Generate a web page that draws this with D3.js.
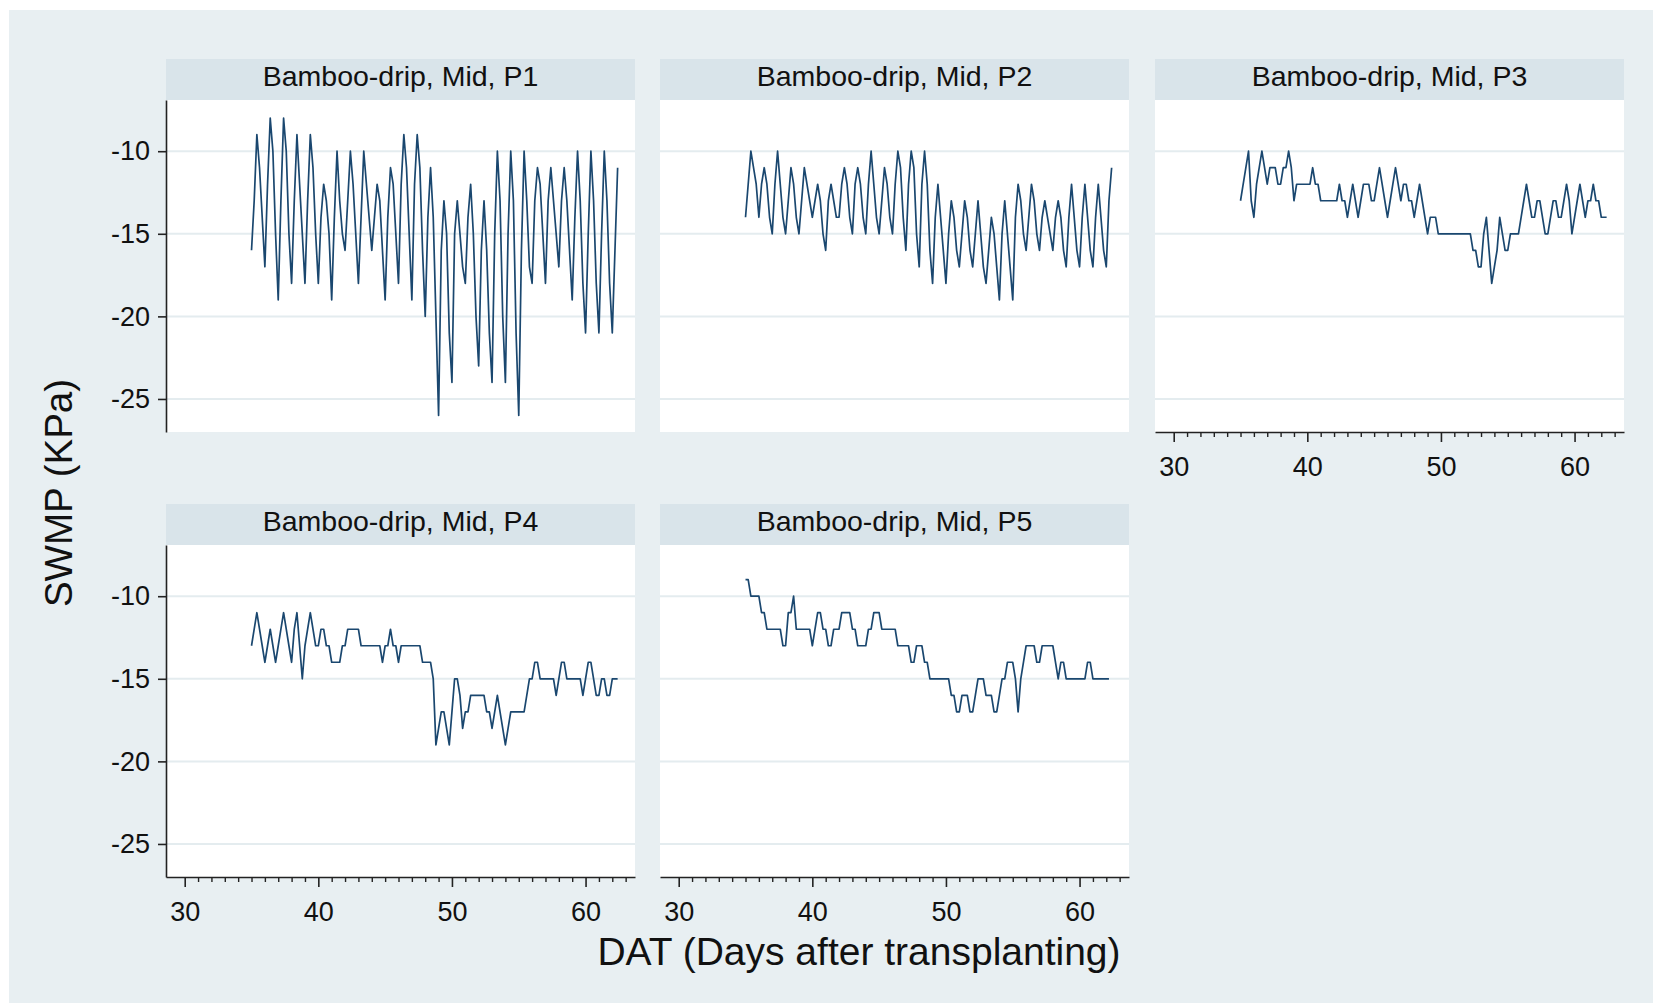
<!DOCTYPE html>
<html><head><meta charset="utf-8">
<script src="https://cdn.jsdelivr.net/npm/d3@7"></script>
<style>body{margin:0;background:#fff}svg{display:block}</style>
</head><body>
<svg id="chart" width="1653" height="1003"></svg>
<script>
// ---- data ----
const panelTitles = ["Bamboo-drip, Mid, P1","Bamboo-drip, Mid, P2","Bamboo-drip, Mid, P3","Bamboo-drip, Mid, P4","Bamboo-drip, Mid, P5"];
const yTicks = [-10, -15, -20, -25];
const xTicks = [30, 40, 50, 60];
const xTitle = "DAT (Days after transplanting)";
const yTitle = "SWMP (KPa)";
const datStart = 35, datStep = 0.2;   // readings every 0.2 day from DAT 35

const p1 = [
 -16,-13,-9,-11,-14,  -17,-12,-8,-10,-15,  -19,-13,-8,-10,-15,  -18,-13,-9,-12,-15,
 -18,-13,-9,-11,-15,  -18,-14,-12,-13,-15, -19,-14,-10,-13,-15, -16,-13,-10,-12,-15,
 -18,-14,-10,-12,-14, -16,-14,-12,-13,-16, -19,-14,-11,-12,-15, -18,-12,-9,-11,-15,
 -19,-12,-9,-11,-16,  -20,-14,-11,-14,-20, -26,-16,-13,-15,-21, -24,-15,-13,-15,-17,
 -18,-14,-12,-15,-20, -23,-16,-13,-16,-21, -24,-15,-10,-13,-20, -24,-15,-10,-13,-21,
 -26,-16,-10,-13,-17, -18,-13,-11,-12,-15, -18,-13,-11,-13,-15, -17,-13,-11,-13,-16,
 -19,-14,-10,-13,-18, -21,-15,-10,-13,-18, -21,-15,-10,-13,-18, -21,-16,-11
];
const p2 = [
 -14,-12,-10,-11,-12, -14,-12,-11,-12,-14, -15,-12,-10,-12,-14, -15,-13,-11,-12,-14,
 -15,-13,-11,-12,-13, -14,-13,-12,-13,-15, -16,-13,-12,-13,-14, -14,-12,-11,-12,-14,
 -15,-12,-11,-12,-14, -15,-12,-10,-12,-14, -15,-13,-11,-12,-14, -15,-12,-10,-11,-14,
 -16,-12,-10,-11,-15, -17,-12,-10,-12,-16, -18,-14,-12,-14,-16, -18,-15,-13,-14,-16,
 -17,-15,-13,-14,-16, -17,-15,-13,-15,-17, -18,-16,-14,-15,-17, -19,-15,-13,-15,-17,
 -19,-14,-12,-13,-15, -16,-14,-12,-13,-15, -16,-14,-13,-14,-15, -16,-14,-13,-14,-16,
 -17,-14,-12,-14,-16, -17,-14,-12,-14,-16, -17,-14,-12,-14,-16, -17,-13,-11
];
const p3 = [
 -13,-12,-11,-10,-13, -14,-12,-11,-10,-11, -12,-11,-11,-11,-12, -12,-11,-11,-10,-11,
 -13,-12,-12,-12,-12, -12,-12,-11,-12,-12, -13,-13,-13,-13,-13, -13,-13,-12,-13,-13,
 -14,-13,-12,-13,-14, -13,-12,-12,-12,-13, -13,-12,-11,-12,-13, -14,-13,-12,-11,-12,
 -13,-12,-12,-13,-13, -14,-13,-12,-13,-14, -15,-14,-14,-14,-15, -15,-15,-15,-15,-15,
 -15,-15,-15,-15,-15, -15,-15,-16,-16,-17, -17,-15,-14,-16,-18, -17,-16,-14,-15,-16,
 -16,-15,-15,-15,-15, -14,-13,-12,-13,-14, -14,-13,-13,-14,-15, -15,-14,-13,-13,-14,
 -14,-13,-12,-13,-15, -14,-13,-12,-13,-14, -13,-13,-12,-13,-13, -14,-14,-14
];
const p4 = [
 -13,-12,-11,-12,-13, -14,-13,-12,-13,-14, -13,-12,-11,-12,-13, -14,-12,-11,-13,-15,
 -13,-12,-11,-12,-13, -13,-12,-12,-13,-13, -14,-14,-14,-14,-13, -13,-12,-12,-12,-12,
 -12,-13,-13,-13,-13, -13,-13,-13,-13,-14, -13,-13,-12,-13,-13, -14,-13,-13,-13,-13,
 -13,-13,-13,-13,-14, -14,-14,-14,-15,-19, -18,-17,-17,-18,-19, -17,-15,-15,-16,-18,
 -17,-17,-16,-16,-16, -16,-16,-16,-17,-17, -18,-17,-16,-17,-18, -19,-18,-17,-17,-17,
 -17,-17,-17,-16,-15, -15,-14,-14,-15,-15, -15,-15,-15,-15,-16, -15,-14,-14,-15,-15,
 -15,-15,-15,-15,-16, -15,-14,-14,-15,-16, -16,-15,-15,-16,-16, -15,-15,-15
];
const p5 = [
 -9,-9,-10,-10,-10,   -10,-11,-11,-12,-12, -12,-12,-12,-12,-13, -13,-11,-11,-10,-12,
 -12,-12,-12,-12,-12, -13,-12,-11,-11,-12, -12,-13,-13,-12,-12, -12,-11,-11,-11,-11,
 -12,-12,-13,-13,-13, -13,-12,-12,-11,-11, -11,-12,-12,-12,-12, -12,-12,-13,-13,-13,
 -13,-13,-14,-14,-13, -13,-13,-14,-14,-15, -15,-15,-15,-15,-15, -15,-15,-16,-16,-17,
 -17,-16,-16,-16,-17, -17,-16,-15,-15,-15, -16,-16,-16,-17,-17, -16,-15,-15,-14,-14,
 -14,-15,-17,-15,-14, -13,-13,-13,-13,-14, -14,-13,-13,-13,-13, -13,-14,-15,-14,-14,
 -15,-15,-15,-15,-15, -15,-15,-15,-14,-14, -15,-15,-15,-15,-15, -15,-15
];
const series = [p1, p2, p3, p4, p5];

// ---- layout ----
const W = 1653, H = 1003;
const font = "'Liberation Sans', Arial, Helvetica, sans-serif";
const colX = [166, 660, 1155], rowY = [100, 545];
const pw = 469, ph = 332, hh = 41;
const lineColor = "#1a476f";

const svg = d3.select("#chart");
svg.append("rect").attr("x", 9).attr("y", 10).attr("width", W - 9).attr("height", H - 10).attr("fill", "#e8eff2");

const x = d3.scaleLinear().domain([28.6, 63.7]).range([0, pw]);
const y = d3.scaleLinear().domain([-27, -6.9]).range([ph, 0]);
const line = d3.line().x((d, i) => x(datStart + i * datStep)).y(d => y(d));

const minorTicks = d3.range(31, 64).filter(v => v % 10 !== 0);

series.forEach((vals, i) => {
  const col = i % 3, row = Math.floor(i / 3);
  const g = svg.append("g").attr("transform", `translate(${colX[col]},${rowY[row]})`);
  // header strip
  g.append("rect").attr("x", 0).attr("y", -hh).attr("width", pw).attr("height", hh).attr("fill", "#d9e4ea");
  g.append("text").attr("x", pw / 2).attr("y", -hh / 2 - 4).attr("dy", "0.36em")
    .attr("text-anchor", "middle").attr("font-family", font).attr("font-size", 28.5).attr("fill", "#111")
    .text(panelTitles[i]);
  // plot area
  g.append("rect").attr("x", 0).attr("y", 0).attr("width", pw).attr("height", ph).attr("fill", "#ffffff");
  // gridlines
  g.selectAll("line.grid").data(yTicks).join("line").attr("class", "grid")
    .attr("x1", 0).attr("x2", pw).attr("y1", d => y(d)).attr("y2", d => y(d))
    .attr("stroke", "#e4ecef").attr("stroke-width", 2);
  // data line
  g.append("path").datum(vals).attr("d", line).attr("fill", "none")
    .attr("stroke", lineColor).attr("stroke-width", 1.7).attr("stroke-linejoin", "round");

  // y axis on left column
  if (col === 0) {
    const ya = g.append("g").call(d3.axisLeft(y).tickValues(yTicks).tickSize(8).tickSizeOuter(0).tickPadding(8).tickFormat(d => String(d)));
    ya.select(".domain").attr("stroke", "#222").attr("stroke-width", 1.6);
    ya.selectAll(".tick line").attr("stroke", "#222").attr("stroke-width", 1.6);
    ya.selectAll(".tick text").attr("font-family", font).attr("font-size", 27).attr("fill", "#111");
  }
  // x axis on bottom-most panel of each column
  if (i >= 2) {
    const xm = g.append("g").attr("transform", `translate(0,${ph})`)
      .call(d3.axisBottom(x).tickValues(minorTicks).tickSize(5).tickSizeOuter(0).tickFormat(""));
    xm.select(".domain").remove();
    xm.selectAll(".tick line").attr("stroke", "#222").attr("stroke-width", 1.4);
    const xa = g.append("g").attr("transform", `translate(0,${ph})`)
      .call(d3.axisBottom(x).tickValues(xTicks).tickSize(10).tickSizeOuter(0).tickFormat(d => String(d)));
    xa.select(".domain").attr("stroke", "#222").attr("stroke-width", 1.6);
    xa.selectAll(".tick line").attr("stroke", "#222").attr("stroke-width", 1.6);
    xa.selectAll(".tick text").attr("y", 34).attr("dy", "0.36em")
      .attr("font-family", font).attr("font-size", 27).attr("fill", "#111");
  }
});

// axis titles
svg.append("text").attr("x", 859).attr("y", 965).attr("text-anchor", "middle")
  .attr("font-family", font).attr("font-size", 39).attr("fill", "#111").text(xTitle);
svg.append("text").attr("transform", "translate(72,493) rotate(-90)").attr("text-anchor", "middle")
  .attr("font-family", font).attr("font-size", 38.5).attr("fill", "#111").text(yTitle);
</script>
</body></html>
